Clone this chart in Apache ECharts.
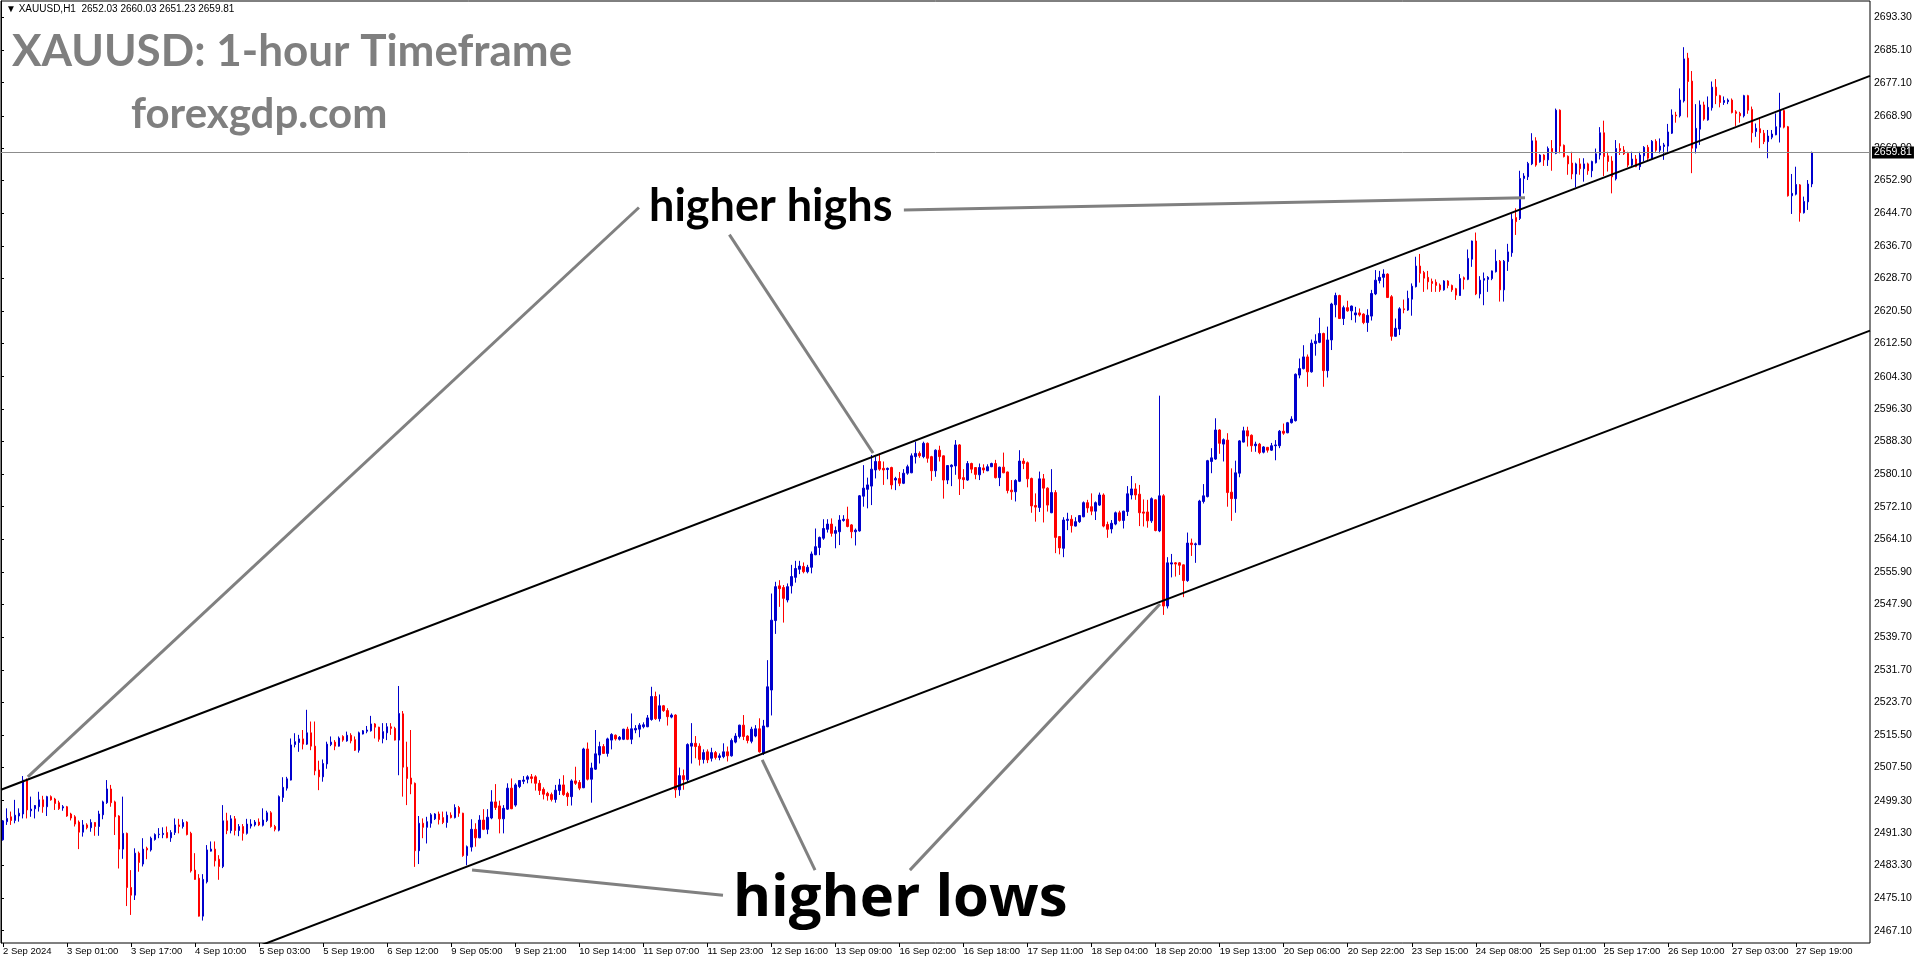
<!DOCTYPE html>
<html><head><meta charset="utf-8">
<script src="https://cdn.jsdelivr.net/npm/echarts@6/dist/echarts.min.js"></script>
<style>html,body{margin:0;padding:0;background:#fff;}#c{width:1916px;height:964px;}</style>
</head><body><div id="c"></div>
<script>
const symbolName = 'XAUUSD,H1';
const titleText = 'XAUUSD: 1-hour Timeframe';
const siteText = 'forexgdp.com';
const highsText = 'higher highs';
const lowsText = 'higher lows';

const xTickLabels = ['2 Sep 2024','3 Sep 01:00','3 Sep 17:00','4 Sep 10:00','5 Sep 03:00','5 Sep 19:00','6 Sep 12:00','9 Sep 05:00','9 Sep 21:00','10 Sep 14:00','11 Sep 07:00','11 Sep 23:00','12 Sep 16:00','13 Sep 09:00','16 Sep 02:00','16 Sep 18:00','17 Sep 11:00','18 Sep 04:00','18 Sep 20:00','19 Sep 13:00','20 Sep 06:00','20 Sep 22:00','23 Sep 15:00','24 Sep 08:00','25 Sep 01:00','25 Sep 17:00','26 Sep 10:00','27 Sep 03:00','27 Sep 19:00'];
const barsPerXTick = 16;
const emptySlotsRight = 14;

const yTickLabels = ['2467.10','2475.10','2483.30','2491.30','2499.30','2507.50','2515.50','2523.70','2531.70','2539.70','2547.90','2555.90','2564.10','2572.10','2580.10','2588.30','2596.30','2604.30','2612.50','2620.50','2628.70','2636.70','2644.70','2652.90','2660.90','2668.90','2677.10','2685.10','2693.30'];
const yMin = 2464.05, yMax = 2697.34;

const open = [
2489.6,2494.1,2495.3,2494.4,2495.5,2496.0,2504.3,2496.8,2497.3,2497.8,
2499.5,2497.8,2500.3,2499.7,2498.8,2497.5,2497.8,2496.0,2495.3,2494.0,
2491.5,2493.3,2492.6,2493.9,2492.9,2495.8,2498.8,2502.2,2499.0,2495.5,
2487.3,2491.2,2477.8,2475.9,2486.3,2483.6,2487.5,2487.1,2489.7,2490.9,
2490.9,2491.4,2490.1,2491.4,2493.3,2492.9,2494.0,2491.2,2482.1,2480.1,
2470.7,2479.2,2486.8,2487.3,2484.8,2483.0,2494.3,2491.9,2494.8,2491.9,
2492.9,2491.2,2493.0,2493.3,2494.0,2493.2,2494.4,2496.3,2492.9,2492.0,
2500.1,2502.4,2504.4,2513.2,2513.7,2514.6,2513.3,2516.1,2512.8,2506.9,
2505.2,2508.4,2513.2,2513.8,2512.8,2515.2,2514.1,2515.5,2514.4,2511.8,
2515.8,2516.5,2516.6,2518.3,2517.5,2514.7,2516.1,2517.6,2517.2,2514.3,
2520.8,2507.6,2504.9,2503.6,2486.9,2493.7,2492.7,2493.7,2494.8,2496.0,
2495.1,2493.9,2495.7,2495.1,2497.6,2496.2,2485.7,2487.8,2492.2,2490.1,
2494.5,2492.2,2495.0,2499.0,2498.0,2494.8,2497.2,2502.4,2498.2,2502.8,
2504.1,2504.6,2505.2,2505.2,2503.6,2502.1,2501.1,2500.8,2499.6,2501.8,
2503.2,2501.1,2500.3,2504.2,2503.8,2502.5,2512.1,2504.6,2507.1,2510.6,
2512.7,2511.0,2514.3,2515.5,2514.5,2514.5,2517.0,2514.5,2516.8,2517.0,
2517.6,2517.6,2519.4,2525.1,2519.6,2522.8,2521.6,2520.0,2520.5,2502.0,
2505.5,2504.5,2512.8,2513.5,2512.8,2509.5,2511.4,2509.8,2511.2,2510.0,
2510.2,2511.4,2510.4,2513.8,2515.2,2518.0,2515.3,2514.0,2515.3,2517.1,
2511.0,2517.6,2526.7,2543.9,2552.5,2552.1,2549.0,2552.5,2554.6,2556.6,
2557.3,2556.0,2557.1,2560.2,2562.0,2564.3,2566.5,2567.8,2565.5,2565.9,
2568.7,2569.0,2567.6,2565.9,2566.1,2574.7,2576.4,2577.2,2581.2,2583.3,
2581.6,2581.3,2581.8,2578.7,2579.1,2577.9,2580.4,2580.5,2584.5,2585.3,
2584.5,2587.8,2584.5,2581.0,2586.1,2584.7,2578.7,2582.0,2582.2,2587.4,
2579.3,2578.7,2582.8,2581.8,2580.0,2581.7,2581.0,2582.0,2582.8,2579.3,
2581.9,2580.7,2576.2,2575.8,2578.4,2583.4,2583.0,2579.1,2572.4,2571.9,
2579.0,2576.7,2570.6,2575.6,2564.7,2561.8,2568.7,2569.0,2567.3,2568.4,
2569.6,2573.1,2572.1,2571.0,2572.5,2575.0,2567.7,2566.6,2567.8,2570.6,
2568.7,2570.9,2575.0,2576.5,2575.2,2570.8,2570.8,2568.6,2573.8,2566.1,
2574.8,2547.5,2557.9,2558.2,2558.2,2557.7,2553.8,2563.1,2562.7,2562.7,
2573.4,2574.6,2583.3,2583.9,2591.1,2587.6,2588.6,2575.7,2574.1,2580.4,
2588.1,2590.9,2589.8,2587.2,2587.6,2585.6,2586.8,2586.1,2587.2,2587.2,
2590.8,2590.4,2592.9,2593.4,2604.7,2606.3,2609.2,2605.5,2612.5,2612.8,
2615.0,2605.8,2613.4,2622.1,2624.4,2618.7,2621.4,2620.6,2619.6,2620.1,
2619.8,2617.7,2619.3,2624.8,2628.1,2628.9,2629.7,2624.1,2614.3,2616.1,
2621.1,2620.8,2623.5,2626.6,2631.7,2630.1,2628.9,2627.9,2627.7,2627.0,
2625.8,2628.0,2626.9,2626.1,2624.4,2628.8,2628.4,2633.4,2637.9,2624.8,
2628.2,2628.4,2628.6,2630.3,2632.9,2625.8,2632.8,2635.0,2643.7,2643.5,
2653.4,2653.8,2657.0,2662.7,2657.5,2659.2,2658.0,2660.8,2659.6,2670.3,
2661.6,2658.9,2657.2,2654.5,2657.0,2655.8,2657.0,2655.3,2657.3,2659.2,
2664.7,2659.0,2657.7,2653.3,2660.8,2660.4,2659.6,2656.7,2658.2,2656.3,
2659.0,2661.1,2658.4,2662.6,2660.4,2661.3,2661.4,2664.6,2669.1,2668.9,
2672.6,2683.2,2677.5,2660.9,2665.6,2671.6,2667.9,2670.9,2676.0,2673.9,
2672.2,2672.4,2672.8,2669.9,2669.5,2668.9,2673.9,2670.5,2665.0,2665.7,
2664.6,2662.5,2663.6,2664.2,2666.1,2670.2,2666.2,2649.1,2649.5,2651.8,
2644.9,2647.6,2652.03];

const high = [
2494.5,2497.4,2496.6,2499.5,2497.4,2505.4,2504.8,2500.3,2498.2,2501.5,
2500.5,2500.5,2500.6,2500.0,2499.3,2498.2,2498.0,2496.3,2495.7,2494.4,
2494.5,2493.7,2494.7,2494.0,2496.8,2499.3,2504.4,2503.2,2499.3,2495.7,
2500.3,2491.4,2482.1,2487.5,2486.7,2490.0,2487.9,2490.4,2491.2,2492.5,
2492.7,2492.9,2492.0,2494.9,2494.8,2494.7,2494.2,2491.6,2486.3,2481.1,
2481.1,2488.3,2489.2,2489.2,2485.8,2498.2,2496.3,2495.7,2495.5,2493.5,
2493.5,2494.8,2494.7,2494.5,2494.9,2497.4,2496.8,2496.7,2493.3,2500.6,
2505.1,2505.2,2514.7,2516.0,2515.6,2516.8,2521.8,2518.9,2518.9,2509.2,
2509.5,2513.9,2515.2,2514.3,2515.2,2515.5,2516.4,2516.0,2515.2,2516.4,
2516.8,2517.8,2520.3,2518.5,2517.6,2518.5,2518.5,2518.5,2517.6,2527.7,
2521.5,2513.9,2516.8,2503.8,2495.5,2494.9,2495.3,2496.2,2496.2,2496.6,
2496.6,2496.6,2496.4,2498.4,2498.0,2496.3,2488.2,2494.7,2493.7,2495.7,
2497.2,2497.2,2501.9,2503.4,2499.3,2498.2,2503.6,2504.8,2503.6,2504.4,
2505.4,2505.6,2505.9,2505.6,2504.4,2502.6,2501.5,2501.3,2503.2,2504.7,
2505.6,2501.5,2504.6,2507.7,2504.4,2512.4,2513.7,2508.7,2516.8,2513.9,
2513.3,2514.9,2516.0,2515.7,2515.3,2517.1,2517.6,2520.9,2518.0,2518.5,
2518.7,2520.5,2527.5,2526.3,2525.6,2523.0,2522.2,2520.9,2520.7,2507.5,
2507.0,2513.5,2518.5,2515.3,2513.5,2512.0,2512.0,2512.4,2511.6,2511.0,
2513.5,2512.7,2514.7,2516.0,2518.1,2520.5,2515.5,2517.6,2518.0,2519.7,
2519.3,2534.1,2550.6,2553.5,2553.9,2552.7,2553.1,2557.7,2558.7,2558.7,
2558.3,2557.7,2561.0,2566.7,2564.7,2569.0,2569.0,2569.2,2567.2,2570.0,
2570.0,2572.1,2567.8,2566.7,2575.0,2582.4,2579.3,2584.9,2584.5,2584.9,
2583.3,2581.8,2582.0,2579.5,2580.7,2581.4,2582.5,2585.3,2588.2,2585.8,
2588.2,2588.0,2584.7,2586.3,2587.2,2584.8,2582.4,2582.6,2588.6,2587.6,
2581.4,2583.4,2583.0,2581.9,2582.8,2582.6,2582.6,2583.0,2583.7,2582.0,
2585.5,2580.8,2578.7,2578.9,2586.1,2584.1,2583.3,2579.3,2575.4,2580.8,
2580.2,2576.9,2581.4,2576.2,2564.8,2569.5,2570.6,2570.0,2569.5,2570.0,
2573.4,2573.8,2575.4,2573.4,2575.6,2575.4,2568.4,2568.8,2570.9,2571.1,
2571.1,2577.2,2579.7,2577.9,2577.5,2573.9,2573.8,2574.4,2573.9,2599.6,
2575.2,2559.6,2560.4,2558.4,2558.4,2557.8,2565.7,2564.2,2563.2,2573.8,
2577.7,2583.7,2586.6,2594.0,2591.3,2589.0,2590.3,2581.6,2583.5,2588.6,
2591.9,2591.9,2590.0,2588.2,2587.9,2587.1,2586.9,2587.9,2588.6,2591.1,
2592.7,2593.1,2594.5,2605.1,2608.8,2612.1,2609.8,2613.5,2614.8,2618.9,
2615.2,2616.7,2622.6,2625.1,2624.6,2621.9,2623.1,2621.9,2621.6,2621.2,
2620.0,2621.0,2625.8,2630.7,2630.5,2630.9,2629.9,2624.5,2618.7,2621.5,
2623.4,2625.6,2627.4,2634.0,2634.7,2630.5,2630.5,2628.6,2628.4,2627.4,
2628.2,2628.2,2627.1,2626.3,2629.7,2629.1,2635.8,2638.0,2640.0,2629.2,
2630.1,2629.2,2630.6,2635.8,2633.2,2633.2,2637.2,2644.7,2646.0,2655.3,
2654.7,2657.5,2664.6,2663.6,2659.4,2659.4,2661.3,2662.9,2670.7,2670.5,
2661.8,2659.1,2660.0,2657.3,2658.4,2658.4,2657.3,2657.8,2660.8,2666.1,
2667.7,2660.0,2658.9,2662.9,2662.1,2661.4,2660.0,2660.0,2659.2,2660.0,
2661.4,2661.7,2662.9,2663.1,2663.3,2662.2,2666.9,2670.5,2669.9,2675.7,
2685.9,2684.5,2680.0,2671.8,2672.7,2672.4,2673.7,2677.4,2678.0,2674.1,
2673.7,2673.2,2673.2,2670.3,2669.9,2674.1,2674.1,2671.2,2667.0,2668.5,
2665.4,2665.4,2665.4,2669.5,2674.6,2670.5,2666.4,2654.5,2656.3,2652.0,
2648.9,2653.0,2660.03];

const low = [
2489.4,2493.3,2493.3,2493.7,2494.1,2494.9,2494.9,2495.3,2494.9,2496.6,
2496.3,2495.5,2499.3,2497.0,2497.0,2496.8,2495.3,2494.4,2492.9,2487.3,
2490.4,2492.2,2491.6,2490.6,2490.6,2494.7,2498.5,2497.8,2490.8,2482.5,
2484.9,2473.2,2471.0,2474.7,2481.7,2483.0,2484.8,2486.7,2489.4,2490.0,
2490.0,2490.0,2489.1,2490.8,2491.2,2492.4,2490.7,2481.5,2479.7,2470.6,
2469.6,2478.8,2486.7,2483.0,2479.7,2482.6,2491.0,2491.2,2490.7,2490.5,
2489.4,2490.9,2492.4,2492.9,2493.0,2492.9,2494.0,2492.6,2491.7,2491.7,
2499.0,2501.8,2504.3,2512.5,2511.4,2512.0,2513.1,2511.8,2505.6,2501.9,
2504.0,2507.2,2512.8,2511.8,2512.7,2513.9,2513.9,2513.5,2511.6,2511.2,
2515.7,2516.0,2516.4,2514.7,2513.9,2513.5,2514.3,2515.6,2514.2,2505.6,
2500.3,2498.2,2500.9,2482.9,2483.6,2490.0,2488.7,2492.6,2494.5,2493.4,
2493.5,2492.6,2494.9,2494.9,2495.3,2485.4,2483.3,2486.7,2487.9,2490.0,
2492.0,2491.0,2494.7,2497.0,2491.2,2491.2,2497.0,2497.2,2497.8,2502.4,
2503.4,2503.6,2503.6,2501.8,2500.7,2499.6,2499.3,2499.1,2498.8,2500.7,
2500.5,2498.0,2498.1,2503.2,2501.9,2502.4,2504.3,2498.8,2506.9,2508.5,
2510.9,2510.2,2512.0,2514.2,2514.2,2514.3,2514.3,2513.3,2516.0,2515.0,
2517.2,2517.5,2519.1,2519.3,2518.9,2521.3,2517.9,2519.7,2500.0,2500.5,
2502.0,2503.8,2508.5,2509.8,2508.0,2508.5,2508.6,2509.0,2509.5,2509.3,
2509.8,2509.0,2510.2,2513.5,2514.7,2514.3,2513.5,2513.5,2515.0,2511.2,
2510.6,2517.5,2520.4,2540.6,2547.3,2543.4,2548.4,2550.6,2553.3,2555.4,
2555.6,2555.6,2555.6,2560.1,2560.1,2563.9,2565.7,2564.7,2561.8,2562.6,
2568.4,2567.0,2564.3,2562.5,2565.9,2572.1,2571.7,2572.5,2579.1,2581.0,
2577.5,2578.9,2576.4,2576.2,2577.2,2577.7,2580.0,2580.4,2582.8,2584.2,
2584.1,2583.0,2578.5,2579.5,2583.3,2574.1,2577.7,2577.2,2580.0,2575.0,
2576.5,2578.5,2580.4,2578.9,2578.7,2580.4,2580.9,2581.9,2579.1,2577.2,
2580.4,2575.4,2573.8,2573.4,2578.2,2581.4,2576.9,2570.6,2568.4,2570.8,
2568.2,2570.9,2570.5,2560.6,2560.3,2559.6,2566.3,2565.7,2567.2,2568.1,
2569.5,2570.6,2570.0,2568.8,2572.3,2567.0,2564.4,2565.5,2567.5,2568.4,
2566.7,2569.8,2573.9,2573.8,2567.3,2567.2,2566.9,2568.1,2566.0,2565.8,
2545.3,2546.9,2554.6,2554.8,2555.2,2549.7,2553.5,2559.9,2558.2,2562.6,
2572.9,2574.4,2580.4,2583.7,2585.2,2583.3,2572.1,2568.6,2570.6,2579.4,
2588.0,2587.0,2585.7,2585.7,2585.1,2585.3,2585.5,2585.9,2583.6,2586.6,
2589.9,2590.3,2592.7,2593.2,2603.9,2606.1,2601.8,2605.3,2609.5,2612.6,
2601.8,2604.1,2610.9,2619.0,2618.6,2617.1,2620.4,2618.3,2617.7,2619.2,
2617.3,2615.4,2618.2,2624.5,2627.4,2626.4,2623.8,2613.2,2614.2,2614.6,
2620.0,2620.6,2619.4,2626.4,2627.6,2625.3,2625.9,2625.3,2625.3,2625.3,
2625.6,2626.2,2625.3,2623.3,2624.3,2625.9,2628.2,2631.5,2624.5,2623.7,
2622.0,2625.3,2628.2,2630.1,2622.9,2622.9,2630.5,2634.0,2639.4,2643.1,
2649.7,2653.0,2656.7,2656.3,2657.3,2656.5,2656.5,2655.3,2659.4,2659.6,
2658.6,2654.3,2653.2,2651.2,2654.3,2652.6,2654.3,2653.7,2657.1,2658.1,
2654.0,2655.1,2649.7,2652.9,2659.2,2659.2,2656.2,2656.2,2656.2,2655.5,
2657.6,2658.0,2658.1,2660.0,2659.6,2658.0,2660.0,2664.4,2667.2,2668.5,
2672.2,2668.5,2654.7,2659.6,2661.7,2667.7,2667.7,2670.2,2671.8,2671.0,
2671.6,2671.8,2669.5,2666.4,2667.2,2668.5,2669.4,2662.3,2663.7,2660.9,
2661.9,2658.4,2663.1,2664.1,2662.3,2665.8,2648.9,2644.6,2649.2,2642.7,
2644.7,2645.6,2651.23];

const close = [
2494.3,2494.9,2494.4,2495.7,2496.2,2504.4,2497.0,2497.2,2498.1,2499.5,
2497.8,2500.3,2499.5,2498.6,2497.3,2497.8,2495.5,2495.0,2493.5,2491.5,
2493.3,2492.6,2493.9,2492.9,2496.0,2499.0,2502.2,2498.8,2495.3,2487.3,
2491.2,2477.8,2475.9,2486.3,2484.0,2487.3,2487.1,2490.0,2490.9,2491.0,
2491.2,2490.1,2491.4,2493.3,2492.9,2493.9,2490.9,2481.9,2479.8,2470.7,
2479.8,2487.1,2487.3,2484.4,2483.0,2494.3,2491.9,2494.8,2491.9,2492.9,
2491.2,2493.5,2493.5,2494.0,2493.3,2494.5,2496.3,2492.9,2492.2,2500.3,
2502.6,2504.7,2513.1,2513.9,2514.6,2513.3,2516.1,2512.8,2506.7,2505.2,
2508.5,2513.3,2513.8,2512.8,2514.8,2514.3,2515.5,2514.1,2511.8,2516.1,
2516.6,2516.8,2518.3,2517.5,2514.5,2516.4,2517.6,2517.2,2514.3,2520.9,
2507.6,2504.8,2503.4,2486.9,2493.7,2492.7,2494.1,2495.8,2496.0,2494.6,
2493.9,2495.7,2495.1,2497.6,2496.2,2485.7,2487.9,2492.2,2490.1,2494.5,
2492.2,2495.2,2499.0,2497.6,2494.8,2497.4,2502.4,2497.3,2503.2,2504.3,
2504.4,2505.2,2504.8,2503.6,2501.8,2500.9,2500.5,2499.6,2501.9,2503.2,
2500.8,2500.3,2504.2,2503.6,2502.4,2512.1,2504.6,2507.4,2510.9,2512.7,
2511.0,2514.6,2515.7,2514.6,2515.0,2517.0,2514.5,2517.1,2517.2,2518.0,
2518.1,2519.8,2525.1,2519.6,2522.8,2521.6,2520.1,2520.5,2502.0,2505.5,
2504.5,2513.2,2513.5,2512.7,2509.5,2511.2,2509.4,2511.2,2510.0,2510.4,
2511.4,2510.4,2514.2,2515.3,2518.0,2515.2,2514.2,2517.0,2517.1,2511.4,
2517.8,2527.5,2544.0,2552.3,2551.8,2549.4,2552.3,2554.8,2556.8,2557.4,
2556.0,2557.1,2560.4,2562.2,2564.5,2566.7,2567.8,2565.5,2566.2,2568.8,
2569.0,2567.2,2565.9,2566.3,2574.8,2576.7,2577.5,2581.4,2583.3,2581.4,
2581.2,2581.6,2577.5,2579.1,2577.9,2580.4,2582.0,2584.7,2585.3,2584.7,
2587.8,2584.1,2581.0,2586.1,2584.5,2578.7,2582.3,2582.4,2587.4,2579.0,
2578.8,2582.8,2581.4,2580.1,2581.8,2581.2,2582.0,2582.8,2579.3,2581.9,
2580.5,2576.1,2575.8,2578.6,2583.4,2582.8,2579.0,2572.3,2572.0,2579.0,
2576.7,2572.5,2575.6,2564.5,2561.9,2568.8,2569.0,2567.4,2568.4,2569.9,
2573.1,2571.8,2571.0,2573.1,2575.0,2567.3,2566.5,2568.0,2570.6,2568.7,
2571.0,2575.3,2576.5,2575.0,2570.6,2570.5,2568.6,2574.1,2566.2,2574.8,
2547.5,2558.2,2558.2,2557.9,2557.6,2553.8,2563.1,2562.7,2562.9,2573.5,
2574.8,2583.5,2584.2,2591.1,2587.8,2588.7,2575.6,2574.1,2580.5,2588.4,
2590.9,2589.6,2587.2,2587.6,2585.5,2586.9,2586.1,2587.2,2587.4,2590.8,
2590.3,2592.9,2593.8,2604.9,2606.3,2609.2,2605.5,2612.6,2613.1,2615.0,
2605.8,2613.4,2622.3,2624.4,2618.7,2621.4,2620.6,2621.8,2620.1,2619.6,
2617.7,2619.5,2624.9,2628.2,2628.9,2629.7,2623.9,2614.3,2616.3,2621.1,
2620.9,2623.7,2626.7,2631.7,2629.9,2628.7,2627.8,2627.4,2626.9,2625.8,
2628.0,2626.9,2625.8,2624.5,2628.6,2628.4,2633.6,2637.9,2624.8,2628.2,
2628.6,2628.9,2630.5,2632.9,2625.8,2632.9,2635.2,2643.3,2642.7,2653.4,
2654.0,2657.1,2662.7,2656.7,2659.2,2658.0,2660.8,2660.0,2670.3,2661.4,
2658.8,2657.0,2654.5,2657.0,2655.8,2657.0,2655.3,2657.6,2659.5,2664.7,
2658.8,2657.6,2653.8,2660.8,2660.3,2659.5,2656.7,2658.2,2656.3,2659.2,
2661.1,2658.4,2662.6,2660.4,2661.4,2661.7,2664.9,2669.1,2668.9,2672.8,
2683.0,2677.4,2660.9,2665.8,2671.6,2668.1,2671.0,2676.0,2673.9,2672.2,
2672.7,2672.8,2669.7,2669.5,2668.9,2673.9,2670.3,2664.7,2665.8,2664.7,
2662.5,2663.9,2664.4,2666.2,2670.2,2666.1,2649.1,2649.7,2651.9,2644.9,
2647.7,2652.0,2659.81];

// trend lines: [bar position, price]
const upperChannel = [[0, 2502.0], [467, 2678.8]];
const lowerChannel = [[65, 2463.5], [467, 2615.7]];
const highsPointerA = [[159.4, 2646.2], [6.7, 2505.2]];
const highsPointerB = [[182.0, 2639.5], [217.9, 2585.4]];
const highsPointerC = [[225.6, 2645.6], [380.8, 2648.6]];
const lowsPointerA = [[180.4, 2475.9], [117.7, 2482.1]];
const lowsPointerB = [[203.4, 2482.1], [190.2, 2509.4]];
const lowsPointerC = [[227.1, 2482.1], [289.6, 2548.0]];

const n = open.length;
const slots = n + emptySlotsRight;
const categories = Array.from({length: slots}, (_, i) => String(i));
const candleData = open.map((o, i) => [o, close[i], low[i], high[i]]);
const yTickValues = yTickLabels.map(Number);
const lastClose = close[n - 1];
const f2 = v => v.toFixed(2);
const headerText = '\u25BC ' + symbolName + '  ' + f2(open[n-1]) + ' ' + f2(high[n-1]) + ' ' + f2(low[n-1]) + ' ' + f2(lastClose);

const BULL = '#0000cd', BEAR = '#ff0000';
const isXTick = idx => idx % barsPerXTick === 0 && idx / barsPerXTick < xTickLabels.length;

function lineSeries(data, color, width) {
  return {type: 'line', xAxisIndex: 1, yAxisIndex: 0, data: data, symbol: 'none', silent: true,
    clip: true, z: 5, lineStyle: {color: color, width: width}, animation: false};
}

const chart = echarts.init(document.getElementById('c'), null, {renderer: 'canvas'});
chart.setOption({
  animation: false,
  backgroundColor: '#ffffff',
  grid: {left: 1, right: 46, top: 1, bottom: 21, show: true, borderColor: '#000', borderWidth: 1, backgroundColor: '#ffffff'},
  xAxis: [
    {type: 'category', data: categories, boundaryGap: true, gridIndex: 0,
     axisLine: {show: false},
     axisTick: {show: true, interval: isXTick, alignWithLabel: true, length: 4, lineStyle: {color: '#000'}},
     axisLabel: {show: true, interval: isXTick, formatter: (v, idx) => xTickLabels[idx / barsPerXTick],
       align: 'left', margin: 3, fontSize: 9.5, fontFamily: 'Liberation Sans', color: '#000'},
     splitLine: {show: false}},
    {type: 'value', min: 0, max: slots, show: false, gridIndex: 0}
  ],
  yAxis: [{type: 'value', position: 'right', min: yMin, max: yMax, scale: true,
    splitLine: {show: false},
    axisLine: {show: true, lineStyle: {color: '#000', width: 1}},
    axisTick: {show: true, length: 3, customValues: yTickValues, lineStyle: {color: '#000'}},
    axisLabel: {show: true, customValues: yTickValues, margin: 4,
      formatter: v => { const k = yTickValues.indexOf(v); return k >= 0 ? yTickLabels[k] : f2(v); },
      fontSize: 10.5, fontFamily: 'Liberation Sans', color: '#000'}}],
  series: [
    {type: 'candlestick', xAxisIndex: 0, yAxisIndex: 0, data: candleData, barWidth: 2, z: 3,
     itemStyle: {color: BULL, color0: BEAR, borderColor: BULL, borderColor0: BEAR, borderColorDoji: BULL, borderWidth: 1},
     markLine: {symbol: 'none', silent: true, animation: false,
       lineStyle: {color: '#8c8c8c', type: 'solid', width: 1},
       label: {show: true, position: 'end', formatter: f2(lastClose), distance: 2,
         backgroundColor: '#000', color: '#fff', padding: [1, 2, 0, 2], fontSize: 10.5, fontFamily: 'Liberation Sans'},
       emphasis: {disabled: true},
       data: [{yAxis: lastClose}]}},
    lineSeries(upperChannel, '#000', 2),
    lineSeries(lowerChannel, '#000', 2),
    lineSeries(highsPointerA, '#808080', 3),
    lineSeries(highsPointerB, '#808080', 3),
    lineSeries(highsPointerC, '#808080', 3),
    lineSeries(lowsPointerA, '#808080', 3),
    lineSeries(lowsPointerB, '#808080', 3),
    lineSeries(lowsPointerC, '#808080', 3)
  ],
  graphic: [
    {type: 'text', x: 6, y: 9, z: 10, style: {text: headerText, font: '10px "Liberation Sans"', fill: '#000', verticalAlign: 'middle'}},
    {type: 'text', x: 12, y: 52, z: 10, style: {text: titleText, font: 'bold 44px Lato', fill: '#7f7f7f', verticalAlign: 'middle'}},
    {type: 'text', x: 131, y: 114, z: 10, style: {text: siteText, font: 'bold 42px Lato', fill: '#7f7f7f', verticalAlign: 'middle'}},
    {type: 'text', x: 649, y: 206, z: 10, style: {text: highsText, font: 'bold 45px Lato', fill: '#000', verticalAlign: 'middle'}},
    {type: 'text', x: 733, y: 899, z: 10, style: {text: lowsText, font: 'bold 58px "Open Sans"', fill: '#000', verticalAlign: 'middle'}}
  ]
});
</script></body></html>
